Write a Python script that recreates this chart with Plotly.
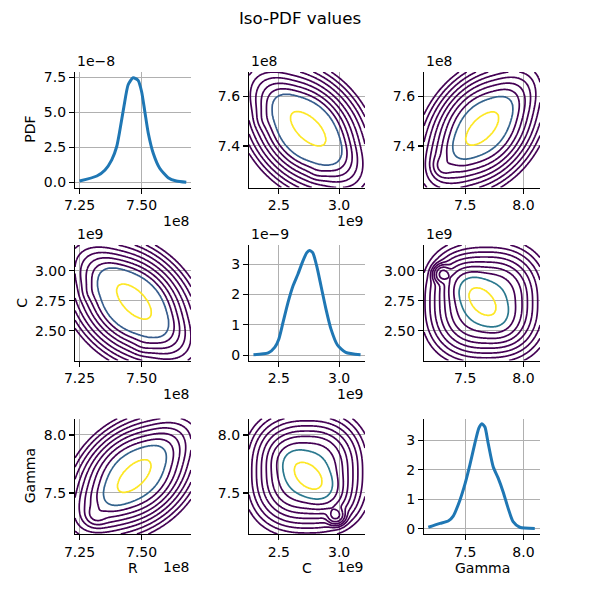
import numpy as np
import plotly.graph_objects as go

FONT = "DejaVu Sans"

# ---------------- data ----------------
VARIABLES = ["R", "C", "Gamma"]

# marginal PDF curves (R in 1e8, C in 1e9; PDF of R in 1e-8, of C in 1e-9)
R_X = [7.250, 7.320, 7.353, 7.380, 7.400, 7.413, 7.429, 7.446, 7.466, 7.486,
       7.500, 7.513, 7.527, 7.547, 7.573, 7.607, 7.640, 7.680]
R_PDF = [0.09, 0.45, 0.88, 1.60, 2.55, 3.74, 5.40, 6.95, 7.45, 7.26,
         6.47, 5.05, 3.50, 2.07, 1.00, 0.33, 0.09, 0.00]

C_X = [2.289, 2.412, 2.467, 2.500, 2.535, 2.576, 2.617, 2.658, 2.699, 2.732,
       2.754, 2.781, 2.814, 2.850, 2.891, 2.932, 2.986, 3.055, 3.178]
C_PDF = [0.02, 0.08, 0.27, 0.54, 1.09, 1.74, 2.28, 2.67, 3.10, 3.38,
         3.45, 3.38, 2.94, 2.28, 1.52, 0.87, 0.34, 0.10, 0.02]

GAMMA_X = [7.183, 7.283, 7.354, 7.397, 7.455, 7.500, 7.540, 7.583, 7.617, 7.643,
           7.669, 7.697, 7.740, 7.783, 7.825, 7.868, 7.911, 7.968, 8.097]
GAMMA_PDF = [0.05, 0.18, 0.26, 0.43, 0.98, 1.55, 2.17, 2.91, 3.42, 3.57,
             3.46, 2.91, 2.11, 1.72, 1.26, 0.70, 0.24, 0.05, 0.01]

# iso-PDF model of each pair, in standardised coordinates
#   ("gauss", mean_a, mean_b, sd_a, sd_b, correlation, weight)
#   ("box",   mean_a, mean_b, sd_a, sd_b, shear,       weight)  soft rounded-square plateau
CENTER = {"R": 7.47, "C": 2.745, "Gamma": 7.645}
SCALE = {"R": 0.05, "C": 0.10, "Gamma": 0.10}
BOX_EDGE, BOX_SOFTNESS, BOX_POWER = 2.0, 0.45, 2.5
RC_COMPONENTS = [("gauss", 0.0, 0.0, 0.90, 0.95, -0.62, 1.00),
                 ("box", -0.10, -0.15, 1.00, 1.00, 0.25, 0.25),
                 ("gauss", -3.3, 0.8, 0.45, 0.45, 0.0, 0.006),
                 ("gauss", 0.8, -3.4, 0.50, 0.50, 0.0, 0.006)]
RG_COMPONENTS = [("gauss", 0.0, 0.0, 0.90, 0.95, 0.62, 1.00),
                 ("box", 0.10, 0.10, 1.00, 1.00, -0.25, 0.25),
                 ("gauss", -3.0, -3.3, 0.45, 0.45, 0.0, 0.02)]
CG_COMPONENTS = [("gauss", 0.0, 0.0, 0.95, 0.95, -0.45, 1.00),
                 ("box", -0.10, 0.35, 1.00, 1.05, 0.0, 0.25),
                 ("gauss", 2.25, -3.35, 0.35, 0.35, 0.0, 0.04)]
# where the iso-lines cross the horizontal line through the centre (first variable), inner -> outer
RC_CROSSINGS = [7.525, 7.5865, 7.6065, 7.6265, 7.6465, 7.6665, 7.6875, 7.7075, 7.7275, 7.7475]
RG_CROSSINGS = [7.524, 7.580, 7.6065, 7.6295, 7.6505, 7.6705, 7.690, 7.710, 7.730, 7.750]
CG_CROSSINGS = [2.850, 2.937, 2.986, 3.033, 3.074, 3.115, 3.156, 3.195, 3.235, 3.275]

PAIRS = {("R", "C"): (RC_COMPONENTS, RC_CROSSINGS, "#365c8d"),
         ("R", "Gamma"): (RG_COMPONENTS, RG_CROSSINGS, "#33638d"),
         ("C", "Gamma"): (CG_COMPONENTS, CG_CROSSINGS, "#2a788e")}

# axes
RANGE = {"R": [7.232, 7.699], "C": [2.252, 3.215], "Gamma": [7.146, 8.142]}
PDF_RANGE = {"R": [-0.37, 7.86], "C": [-0.17, 3.63], "Gamma": [-0.18, 3.75]}
X_TICKS = {"R": ([7.25, 7.50], ["7.25", "7.50"]),
           "C": ([2.5, 3.0], ["2.5", "3.0"]),
           "Gamma": ([7.5, 8.0], ["7.5", "8.0"])}
Y_TICKS = {"R": ([7.4, 7.6], ["7.4", "7.6"]),
           "C": ([2.5, 2.75, 3.0], ["2.50", "2.75", "3.00"]),
           "Gamma": ([7.5, 8.0], ["7.5", "8.0"])}
PDF_TICKS = {"R": ([0, 2.5, 5, 7.5], ["0.0", "2.5", "5.0", "7.5"]),
             "C": ([0, 1, 2, 3], ["0", "1", "2", "3"]),
             "Gamma": ([0, 1, 2, 3], ["0", "1", "2", "3"])}
OFFSET = {"R": "1e8", "C": "1e9", "Gamma": ""}
PDF_OFFSET = {"R": "1e\u22128", "C": "1e\u22129", "Gamma": ""}
MARGINALS = {"R": (R_X, R_PDF), "C": (C_X, C_PDF), "Gamma": (GAMMA_X, GAMMA_PDF)}

# ---------------- layout geometry (pixels) ----------------
W = H = 600
COLS = [(75, 191), (249, 365), (424, 540)]
ROWS = [(72, 187.5), (245, 360.5), (418.5, 534)]
YLABEL_X = [30, 22, 30]
YELLOW = "#fde725"
PURPLE = "#440154"


def neglog_density(a, b, comps):
    z = 0.0
    for kind, ma, mb, sa, sb, shape, w in comps:
        da = (a - ma) / sa
        db = (b - mb) / sb
        if kind == "gauss":
            q = (da * da - 2 * shape * da * db + db * db) / (1 - shape * shape)
            z = z + w * np.exp(-0.5 * q)
        else:
            ua = da + shape * db
            ub = db + shape * da
            r = (np.abs(ua) ** BOX_POWER + np.abs(ub) ** BOX_POWER) ** (1 / BOX_POWER)
            z = z + w / (1 + np.exp((r - BOX_EDGE) / BOX_SOFTNESS))
    return -np.log(z)


def contour_trace(xv, yv, k):
    first, second = (xv, yv) if (xv, yv) in PAIRS else (yv, xv)
    comps, crossings, blue = PAIRS[(first, second)]
    n = 140
    xa = np.linspace(RANGE[first][0], RANGE[first][1], n)
    xb = np.linspace(RANGE[second][0], RANGE[second][1], n)
    a = (xa - CENTER[first]) / SCALE[first]
    b = (xb - CENTER[second]) / SCALE[second]
    A, B = np.meshgrid(a, b)           # rows -> b, cols -> a
    s = neglog_density(A, B, comps)
    ray = (np.array(crossings) - CENTER[first]) / SCALE[first]
    lev = neglog_density(ray, 0.0, comps)
    nl = len(lev)
    s_ext = np.concatenate([[min(s.min(), lev[0]) - 5], lev, [lev[-1] + 100]])
    i_ext = np.concatenate([[-1], np.arange(nl), [nl - 1 + 100 / (lev[-1] - lev[-2])]])
    g = np.interp(s, s_ext, i_ext)
    if (xv, yv) == (first, second):
        x, y, z = xa, xb, g
    else:
        x, y, z = xb, xa, g.T
    e = 0.5 / (nl - 1)
    cs = [[0, YELLOW], [e, YELLOW], [e, blue], [3 * e, blue], [3 * e, PURPLE], [1, PURPLE]]
    return go.Contour(x=x, y=y, z=np.round(z, 4), xaxis="x%d" % k, yaxis="y%d" % k,
                      contours=dict(start=0, end=nl - 1, size=1, coloring="lines"),
                      colorscale=cs, zauto=False, zmin=0, zmax=nl - 1,
                      line=dict(width=1.7, smoothing=1), showscale=False,
                      hoverinfo="skip")


def axis_common():
    return dict(showgrid=True, gridcolor="#b0b0b0", gridwidth=1, zeroline=False,
                showline=True, linecolor="black", linewidth=1.1, ticks="outside",
                ticklen=5, tickwidth=1.1, tickcolor="black", mirror=False, automargin=False,
                tickfont=dict(size=14, color="black", family=FONT), fixedrange=True)


fig = go.Figure()
layout = {}
ann = []
for i, yv in enumerate(VARIABLES):
    for j, xv in enumerate(VARIABLES):
        k = i * 3 + j + 1
        x0, x1 = COLS[j]
        t0, t1 = ROWS[i]
        xax = axis_common()
        yax = axis_common()
        xax.update(domain=[x0 / W, x1 / W], range=RANGE[xv], anchor="y%d" % k,
                   tickvals=X_TICKS[xv][0], ticktext=X_TICKS[xv][1])
        yax.update(domain=[1 - t1 / H, 1 - t0 / H], anchor="x%d" % k)
        if i == j:
            mx, mp = MARGINALS[xv]
            fig.add_trace(go.Scatter(x=mx, y=mp, mode="lines",
                                     line=dict(color="#1f77b4", width=3, shape="spline", smoothing=0.6),
                                     xaxis="x%d" % k, yaxis="y%d" % k, hoverinfo="skip", showlegend=False))
            yax.update(range=PDF_RANGE[xv], tickvals=PDF_TICKS[xv][0], ticktext=PDF_TICKS[xv][1])
            yoff = PDF_OFFSET[xv]
        else:
            fig.add_trace(contour_trace(xv, yv, k))
            yax.update(range=RANGE[yv], tickvals=Y_TICKS[yv][0], ticktext=Y_TICKS[yv][1])
            yoff = OFFSET[yv]
        layout["xaxis%d" % k] = xax
        layout["yaxis%d" % k] = yax
        if yoff:
            ann.append(dict(text=yoff, x=x0 / W, y=1 - t0 / H, xref="paper", yref="paper",
                            xanchor="left", yanchor="bottom", showarrow=False, yshift=1,
                            font=dict(size=14, family=FONT, color="black")))
        if OFFSET[xv]:
            ann.append(dict(text=OFFSET[xv], x=x1 / W, y=1 - t1 / H, xref="paper", yref="paper",
                            xanchor="right", yanchor="middle", showarrow=False, yshift=-33,
                            font=dict(size=14, family=FONT, color="black")))
    ylab = "PDF" if i == 0 else yv
    t0, t1 = ROWS[i]
    ann.append(dict(text=ylab, x=YLABEL_X[i] / W, y=1 - (t0 + t1) / 2 / H, xref="paper", yref="paper",
                    xanchor="center", yanchor="middle", textangle=-90, showarrow=False,
                    font=dict(size=14, family=FONT, color="black")))

for j, xv in enumerate(VARIABLES):
    x0, x1 = COLS[j]
    ann.append(dict(text=xv, x=(x0 + x1) / 2 / W, y=1 - ROWS[2][1] / H, xref="paper", yref="paper",
                    xanchor="center", yanchor="middle", showarrow=False, yshift=-34,
                    font=dict(size=14, family=FONT, color="black")))

fig.update_layout(**layout)
fig.update_layout(width=W, height=H, autosize=False,
                  margin=dict(l=0, r=0, t=0, b=0, pad=0, autoexpand=False),
                  paper_bgcolor="white", plot_bgcolor="white", showlegend=False,
                  font=dict(family=FONT, size=14, color="black"),
                  title=dict(text="Iso-PDF values", x=0.5, xanchor="center", y=1 - 18 / H,
                             yanchor="middle", font=dict(size=16.7, family=FONT, color="black")),
                  annotations=ann)
fig.write_html("out.html", config={"displayModeBar": False, "staticPlot": True},
               post_script="document.body.style.margin='0px';")
